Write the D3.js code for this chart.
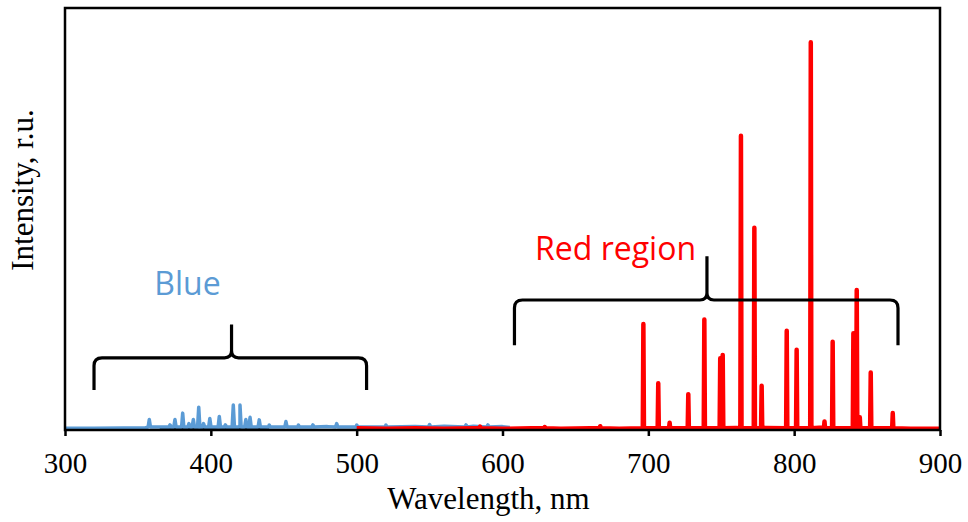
<!DOCTYPE html>
<html>
<head>
<meta charset="utf-8">
<script src="https://cdn.jsdelivr.net/npm/d3@7"></script>
<style>
  body { margin: 0; background: #fff; }
  svg { display: block; }
</style>
</head>
<body>
<div id="plot"></div>
<script>
// wavelength ticks
var wlTicks = [300, 400, 500, 600, 700, 800, 900];

// blue spectrum: baseline noise [nm, intensity] and emission lines [nm, peak]
var blueBase = [[300,0.004],[320,0.004],[340,0.005],[355,0.005],[365,0.007],[380,0.009],
  [400,0.010],[420,0.011],[440,0.009],[460,0.008],[480,0.008],[500,0.007],[520,0.008],
  [540,0.008],[560,0.009],[580,0.009],[600,0.008],[605,0.006]];
var bluePeaks = [[357.8,0.025],[372,0.012],[375.4,0.025],[380.7,0.040],[385,0.015],
  [388,0.025],[391.7,0.054],[395,0.015],[399.3,0.027],[405.8,0.032],[410,0.012],
  [415.4,0.059],[420,0.059],[424,0.025],[426.9,0.030],[433.2,0.024],[440,0.012],
  [451.5,0.020],[460,0.012],[470,0.012],[486.3,0.015],[500,0.012],[520,0.012],
  [550,0.013],[575,0.012],[590,0.012]];

// red spectrum
var redBase = [[500,0.004],[520,0.003],[540,0.004],[560,0.003],[580,0.004],[600,0.003],
  [620,0.004],[640,0.003],[660,0.004],[680,0.003],[700,0.004],[720,0.004],[740,0.005],
  [760,0.005],[780,0.005],[800,0.005],[820,0.006],[840,0.005],[860,0.004],[880,0.003],[900,0.003]];
var redPeaks = [[584.6,0.008],[629,0.007],[667,0.009],[696.6,0.251],[706.8,0.111],
  [714.6,0.017],[727.4,0.085],[738.4,0.262],[749.3,0.170],[751.0,0.178],[763.5,0.697],
  [772.7,0.479],[777.7,0.105],[794.9,0.235],[801.7,0.190],[811.4,0.919],[820.8,0.020],
  [826.4,0.209],[840.6,0.229],[842.9,0.332],[845.0,0.030],[852.5,0.136],[867.6,0.040]];

// dark trace mostly hidden under the blue one
var blackBase = [[365,0.002],[372,0.004],[378,0.002],[385,0.004],[392,0.001],[398,0.003],
  [405,0.001],[415,0.003],[422,0.001],[430,0.003],[440,0.001]];

// brace annotations: [from nm, to nm, tip nm, end value, bar value, tip value]
var braces = [[319.9,506.8,414.2,0.095,0.171,0.250],[608.2,871.2,740.2,0.201,0.308,0.412]];
var braceLabels = ['Blue', 'Red region'];
var labelPos = [[384,0.32],[677.5,0.403]];
var labelColors = ['#5B9BD5', '#FF0000'];

var W = 968, H = 522;
var mLeft = 65, mRight = 940, mTop = 8, mBottom = 430;

var svg = d3.select('#plot').append('svg')
  .attr('width', W)
  .attr('height', H);

var x = d3.scaleLinear().domain([300, 900]).range([mLeft, mRight]);
var y = d3.scaleLinear().domain([0, 1]).range([mBottom, mTop]);

//build a spectrum from baseline points + narrow line profiles
function spectrum(base, peaks, floor, hw) {
  var pts = base.slice();
  peaks.forEach(function(p){
    pts.push([p[0]-hw, floor], [p[0], p[1]], [p[0]+hw, floor]);
  });
  return pts.sort(function(a,b){ return a[0]-b[0]; });
}

var line = d3.line()
  .x(function(d){ return x(d[0]); })
  .y(function(d){ return y(d[1]); });

svg.append('path')
  .datum(blackBase)
  .attr('d', line)
  .style('fill','none')
  .style('stroke','#000')
  .style('stroke-width','2.5px');

svg.append('path')
  .datum(spectrum(blueBase, bluePeaks, 0.007, 0.8))
  .attr('d', line)
  .style('fill','none')
  .style('stroke','#5B9BD5')
  .style('stroke-width','3.5px')
  .style('stroke-linejoin','round');

svg.append('path')
  .datum(spectrum(redBase, redPeaks, 0.004, 0.4))
  .attr('d', line)
  .style('fill','none')
  .style('stroke','#FF0000')
  .style('stroke-width','4.5px')
  .style('stroke-linejoin','round');

//frame
svg.append('rect')
  .attr('x', mLeft)
  .attr('y', mTop)
  .attr('width', mRight-mLeft)
  .attr('height', mBottom-mTop)
  .style('fill','none')
  .style('stroke','#000')
  .style('stroke-width','2.5px');

//x axis
var xAxis = svg.append('g')
  .attr('transform','translate(0,'+mBottom+')')
  .call(d3.axisBottom(x).tickValues(wlTicks).tickSize(6).tickPadding(16));
xAxis.select('.domain').remove();
xAxis.selectAll('line').style('stroke','#000').style('stroke-width','2.5px');
xAxis.selectAll('text')
  .style('font-family','"Liberation Serif", "Times New Roman", serif')
  .style('font-size','29px')
  .style('fill','#000');

svg.append('text')
  .attr('x', (mLeft+mRight)/2 - 14)
  .attr('y', 509)
  .attr('text-anchor','middle')
  .style('font-family','"Liberation Serif", "Times New Roman", serif')
  .style('font-size','31px')
  .text('Wavelength, nm');

svg.append('text')
  .attr('transform','translate(33,190) rotate(-90)')
  .attr('text-anchor','middle')
  .style('font-family','"Liberation Serif", "Times New Roman", serif')
  .style('font-size','31px')
  .text('Intensity, r.u.');

//braces
braces.forEach(function(b){
  var x0 = x(b[0]), x1 = x(b[1]), xc = x(b[2]);
  var ye = y(b[3]), yb = y(b[4]), yt = y(b[5]);
  var r = 8, rc = 7;
  var p = d3.path();
  p.moveTo(x0, ye);
  p.lineTo(x0, yb+r);
  p.quadraticCurveTo(x0, yb, x0+r, yb);
  p.lineTo(xc-rc, yb);
  p.quadraticCurveTo(xc, yb, xc, yb-rc);
  p.lineTo(xc, yt);
  p.moveTo(xc, yb-rc);
  p.quadraticCurveTo(xc, yb, xc+rc, yb);
  p.lineTo(x1-r, yb);
  p.quadraticCurveTo(x1, yb, x1, yb+r);
  p.lineTo(x1, ye);
  svg.append('path')
    .attr('d', p.toString())
    .style('fill','none')
    .style('stroke','#000')
    .style('stroke-width','3.2px');
});

braceLabels.forEach(function(t, i){
  svg.append('text')
    .attr('x', x(labelPos[i][0]))
    .attr('y', y(labelPos[i][1]))
    .attr('text-anchor','middle')
    .style('font-family','"Open Sans", sans-serif')
    .style('font-size','32px')
    .style('fill', labelColors[i])
    .text(t);
});
</script>
</body>
</html>
